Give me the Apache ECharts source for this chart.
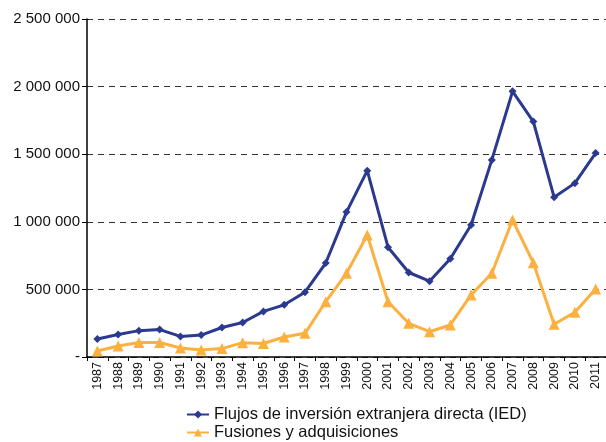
<!DOCTYPE html>
<html><head><meta charset="utf-8">
<script src="https://cdn.jsdelivr.net/npm/echarts@6/dist/echarts.min.js"></script>
<style>html,body{margin:0;padding:0;background:#fff}#c{width:606px;height:442px}</style>
</head><body><div id="c"></div>
<script>
const years = ['1987','1988','1989','1990','1991','1992','1993','1994','1995','1996','1997','1998','1999','2000','2001','2002','2003','2004','2005','2006','2007','2008','2009','2010','2011'];
const ied = [133000,166000,195000,203000,152000,162000,218000,255000,337000,386000,479000,695000,1072000,1378000,812000,625000,561000,727000,976000,1458000,1965000,1741000,1182000,1286000,1508000];
const fya = [45000,81000,107000,107000,67000,52000,62000,106000,100000,148000,175000,409000,619000,902000,409000,249000,187000,237000,459000,619000,1013000,697000,242000,331000,503000];
const seriesNames = ['Flujos de inversión extranjera directa (IED)','Fusiones y adquisiciones'];

const chart = echarts.init(document.getElementById('c'));
const fmt = v => v === 0 ? '-' : String(v).replace(/\B(?=(\d{3})+(?!\d))/g, ' ');
const legendBase = {
  orient:'vertical', left:181, itemGap:2,
  itemWidth:22, itemHeight:10,
  textStyle:{fontSize:16.5,color:'#111',fontFamily:'Liberation Sans, Arial, sans-serif'}
};
chart.setOption({
  animation:false,
  textStyle:{fontFamily:'Liberation Sans, Arial, sans-serif'},
  grid:{left:87,top:19,right:-3,bottom:85},
  legend:[
    Object.assign({}, legendBase, {top:401, data:[seriesNames[0]]}),
    Object.assign({}, legendBase, {top:419, data:[seriesNames[1]]})
  ],
  xAxis:{
    type:'category', data:years, boundaryGap:true,
    axisLine:{lineStyle:{color:'#000',width:1.5}},
    axisTick:{show:true,length:4,lineStyle:{color:'#000'},interval:0},
    axisLabel:{rotate:90,fontSize:12.5,color:'#111',margin:5,interval:0}
  },
  yAxis:{
    type:'value', min:0, max:2500000, interval:500000,
    axisLine:{show:true,lineStyle:{color:'#000',width:1.5}},
    axisTick:{show:true,length:5,lineStyle:{color:'#000'}},
    axisLabel:{fontSize:15,color:'#111',margin:7,formatter:fmt},
    splitLine:{lineStyle:{color:'#333',type:[6,5],width:1.2}}
  },
  series:[
    {name:seriesNames[0],type:'line',data:ied,color:'#2B3A8F',
     lineStyle:{width:3},symbol:'diamond',symbolSize:8,itemStyle:{color:'#2B3A8F'},z:3},
    {name:seriesNames[1],type:'line',data:fya,color:'#FBB040',
     lineStyle:{width:3},symbol:'triangle',symbolSize:11,itemStyle:{color:'#FBB040'},z:2}
  ]
});
</script></body></html>
